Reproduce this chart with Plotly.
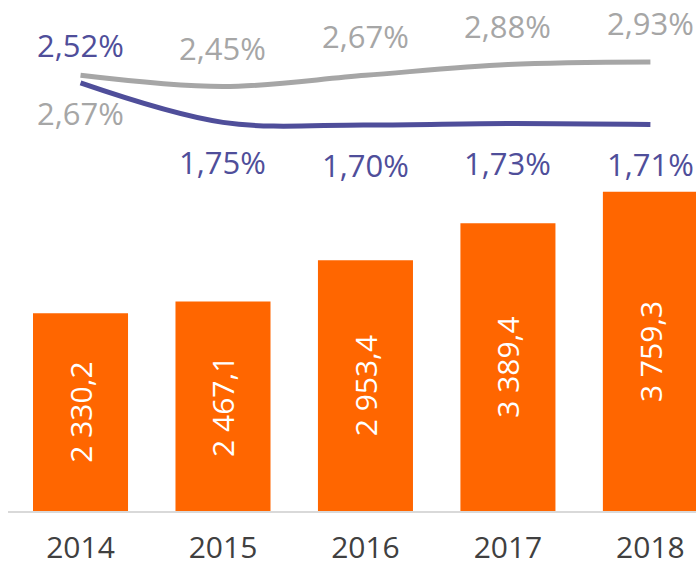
import plotly.graph_objects as go

years = ["2014", "2015", "2016", "2017", "2018"]
bar_values = [2330.2, 2467.1, 2953.4, 3389.4, 3759.3]
grey_values = [2.67, 2.45, 2.67, 2.88, 2.93]
purple_values = [2.52, 1.75, 1.70, 1.73, 1.71]

ORANGE = "#FF6600"
GREY = "#A6A6A6"
PURPLE = "#4F4E9A"
FONT = "Open Sans"

x_idx = list(range(len(years)))

fig = go.Figure()
fig.add_trace(go.Bar(
    x=x_idx, y=bar_values, width=0.667,
    marker=dict(color=ORANGE, line=dict(width=0)),
    texttemplate="%{y:,.1f}", textposition="inside", textangle=-90,
    insidetextanchor="middle",
    insidetextfont=dict(color="white", size=30, family=FONT),
    hoverinfo="skip",
))
fig.add_trace(go.Scatter(
    x=x_idx, y=grey_values, yaxis="y2", mode="lines",
    line=dict(color=GREY, width=5, shape="spline", smoothing=1),
    hoverinfo="skip",
))
fig.add_trace(go.Scatter(
    x=x_idx, y=purple_values, yaxis="y2", mode="lines",
    line=dict(color=PURPLE, width=5, shape="spline", smoothing=1),
    hoverinfo="skip",
))

def pct(v):
    return f"{v:.2f}".replace(".", ",") + "%"

annotations = []
for i, v in enumerate(grey_values):
    shift = -38 if i == 0 else 39
    annotations.append(dict(x=i, y=v, xref="x", yref="y2", text=pct(v),
                            showarrow=False, yshift=shift,
                            font=dict(color=GREY, size=31, family=FONT)))
for i, v in enumerate(purple_values):
    shift = 38 if i == 0 else -40
    annotations.append(dict(x=i, y=v, xref="x", yref="y2", text=pct(v),
                            showarrow=False, yshift=shift,
                            font=dict(color=PURPLE, size=31, family=FONT)))

fig.update_layout(
    width=696, height=568,
    margin=dict(l=8, r=0, t=0, b=57, autoexpand=False),
    paper_bgcolor="white", plot_bgcolor="white",
    separators=", ",
    showlegend=False,
    annotations=annotations,
    xaxis=dict(range=[-0.509, 4.32], tickvals=x_idx, ticktext=years,
               showgrid=False, zeroline=False, showline=True,
               linecolor="#D9D9D9", linewidth=2, ticks="",
               tickfont=dict(size=30, color="#404040", family=FONT),
               ticklabelstandoff=9, automargin=False),
    yaxis=dict(range=[0, 6019], visible=False, showgrid=False),
    yaxis2=dict(range=[-5.84, 4.14], overlaying="y", visible=False,
                showgrid=False),
)

fig.write_html(
    "out.html",
    config={"displayModeBar": False},
    post_script="document.body.style.margin='0';document.body.style.overflow='hidden';",
)
